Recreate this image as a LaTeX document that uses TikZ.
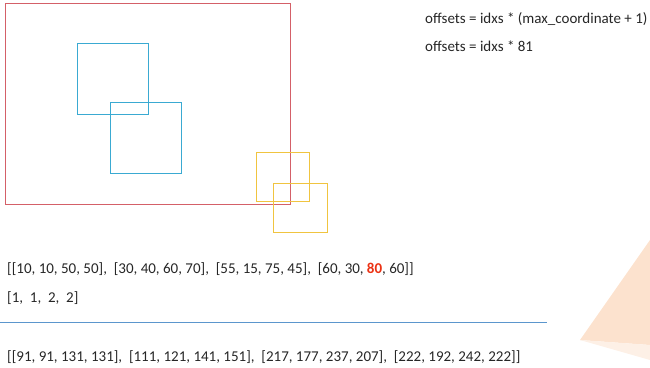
\documentclass[tikz,border=0pt]{standalone}
\usepackage{fontspec}
\setmainfont{Carlito}
\definecolor{rectred}{RGB}{212,96,104}
\definecolor{boxblue}{RGB}{58,170,210}
\definecolor{boxyel}{RGB}{240,196,64}
\definecolor{lineblue}{RGB}{91,150,205}
\definecolor{hired}{RGB}{235,50,20}
\definecolor{peach}{RGB}{252,226,206}
\definecolor{peachlt}{RGB}{253,240,230}
\begin{document}
\begin{tikzpicture}[x=1pt,y=-1pt,
  txt/.style={anchor=base west,inner sep=0pt,font=\fontsize{15}{18}\selectfont,text=black!85},
  redbox/.style={draw=rectred,line width=1pt},
  bluebox/.style={draw=boxblue,line width=1pt},
  yelbox/.style={draw=boxyel,line width=1pt}]
\useasboundingbox (0,0) rectangle (650,367);
\fill[peach] (580,340) -- (650,240) -- (650,345) -- cycle;
\fill[peachlt] (580,340) -- (650,345) -- (650,360) -- cycle;
\draw[redbox] (5,3) rectangle (290,204);
\draw[bluebox] (77,43) rectangle (148,114);
\draw[bluebox] (110,102) rectangle (181,173);
\draw[yelbox] (256,152) rectangle (309,201);
\draw[yelbox] (273,183) rectangle (327,232);
\node[txt] (f1) at (425,23) {offsets = idxs * (max\_coordinate + 1)};
\node[txt] (f2) at (425,51) {offsets = idxs * 81};
\node[txt] (l1) at (7,273) {[[10, 10, 50, 50],\ \ [30, 40, 60, 70],\ \ [55, 15, 75, 45],\ \ [60, 30, \textcolor{hired}{\textbf{80}}, 60]]};
\node[txt] (l2) at (7,302) {[1,\ \ 1,\ \ 2,\ \ 2]};
\coordinate (a) at (0,322);
\coordinate (b) at (547,322);
\draw[draw=lineblue,line width=1pt] (a) -- (b);
\node[txt] (l3) at (7,361) {[[91, 91, 131, 131],\ \ [111, 121, 141, 151],\ \ [217, 177, 237, 207],\ \ [222, 192, 242, 222]]};
\end{tikzpicture}
\end{document}
